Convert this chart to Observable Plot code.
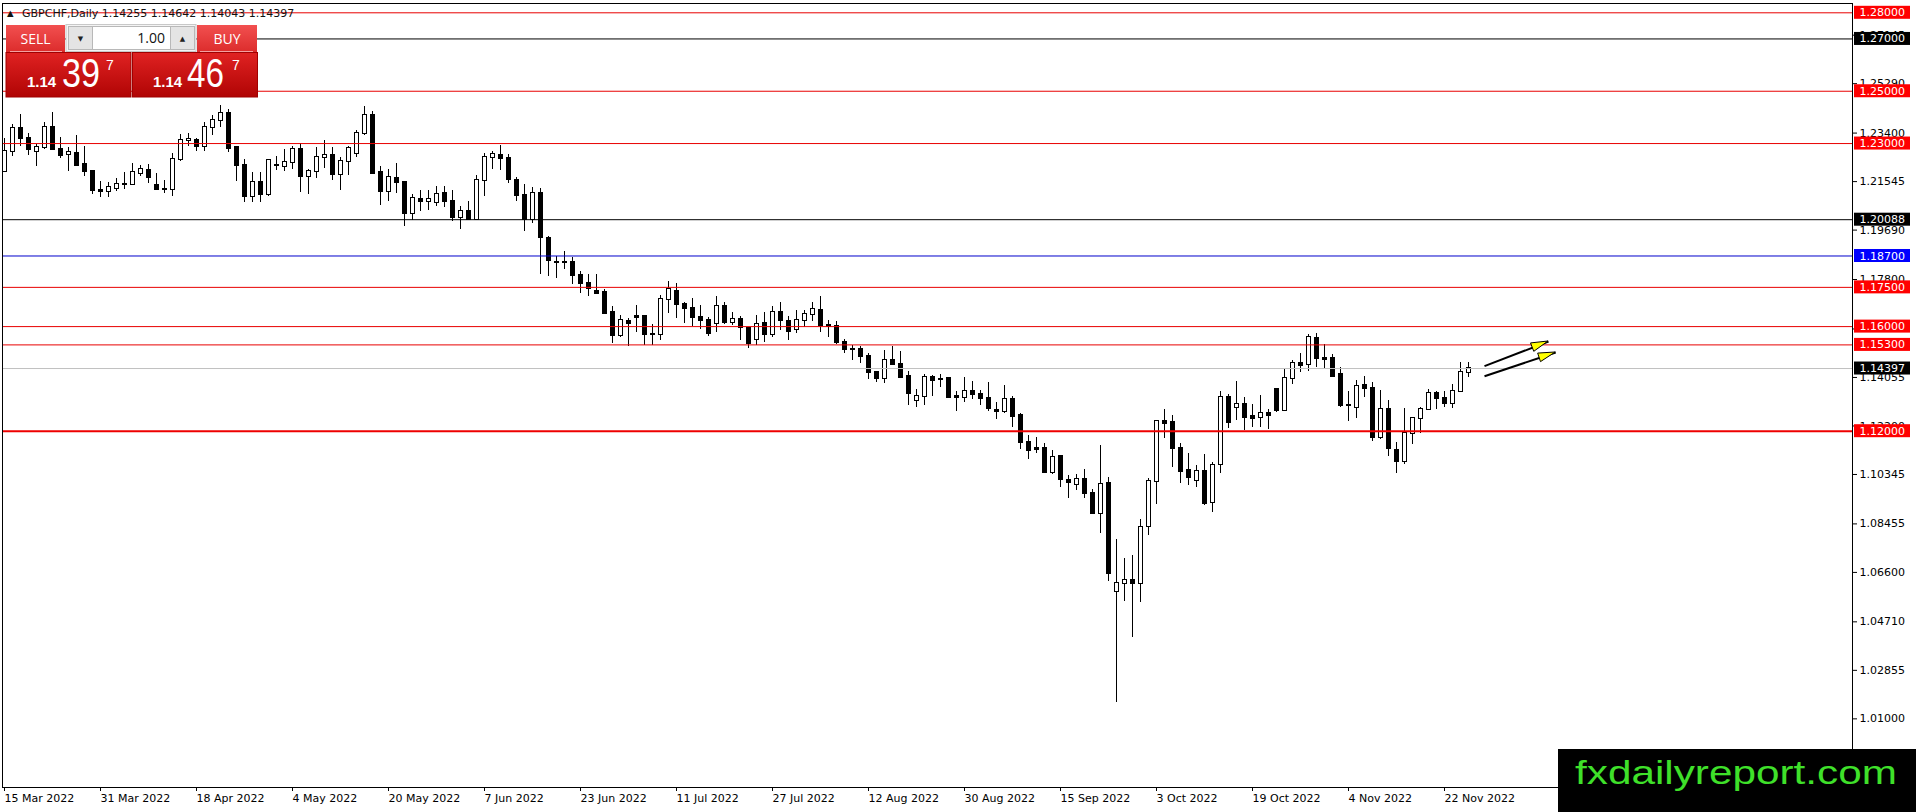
<!DOCTYPE html>
<html>
<head>
<meta charset="utf-8">
<script src="https://cdn.jsdelivr.net/npm/d3@7"></script>
<script src="https://cdn.jsdelivr.net/npm/@observablehq/plot@0.6"></script>
<style>
  html, body { margin: 0; padding: 0; background: #fff; }
  #wrap { position: relative; width: 1916px; height: 812px; overflow: hidden; background: #fff; }
  #chart { position: absolute; left: 0; top: 0; }
  .ov { position: absolute; left: 0; top: 0; overflow: visible; }
</style>
</head>
<body>
<div id="wrap">
  <div id="chart"></div>
</div>
<script>
// ---------------- data ----------------
const symbol = "GBPCHF,Daily";

const open = [
1.2194,1.2268,1.2359,1.2320,1.2268,1.2285,1.2361,1.2277,1.2258,1.2262,
1.2220,1.2193,1.2120,1.2115,1.2130,1.2142,1.2143,1.2184,1.2197,1.2141,
1.2125,1.2124,1.2239,1.2312,1.2313,1.2287,1.2361,1.2388,1.2415,1.2285,
1.2217,1.2099,1.2151,1.2107,1.2217,1.2213,1.2227,1.2278,1.2174,1.2193,
1.2246,1.2255,1.2180,1.2231,1.2262,1.2338,1.2407,1.2189,1.2115,1.2166,
1.2151,1.2032,1.2086,1.2078,1.2074,1.2109,1.2079,1.2016,1.2041,1.2009,
1.2157,1.2246,1.2255,1.2243,1.2160,1.2102,1.2009,1.2109,1.1937,1.1847,
1.1846,1.1845,1.1796,1.1764,1.1734,1.1729,1.1654,1.1567,1.1620,1.1637,
1.1640,1.1570,1.1569,1.1703,1.1735,1.1685,1.1669,1.1634,1.1622,1.1611,
1.1678,1.1614,1.1627,1.1592,1.1550,1.1611,1.1569,1.1654,1.1620,1.1589,
1.1622,1.1646,1.1662,1.1603,1.1599,1.1539,1.1512,1.1512,1.1487,1.1424,
1.1401,1.1471,1.1455,1.1410,1.1318,1.1331,1.1407,1.1399,1.1401,1.1331,
1.1328,1.1351,1.1340,1.1325,1.1279,1.1276,1.1323,1.1260,1.1157,1.1134,
1.1132,1.1043,1.1103,1.1011,1.0996,1.1014,1.0960,1.0886,1.0999,1.0588,
1.0616,1.0628,1.0616,1.0837,1.1006,1.1238,1.1232,1.1132,1.1050,1.1011,
1.1046,1.0926,1.1071,1.1328,1.1292,1.1301,1.1255,1.1254,1.1266,1.1359,
1.1279,1.1400,1.1458,1.1454,1.1553,1.1477,1.1477,1.1415,1.1299,1.1292,
1.1373,1.1362,1.1174,1.1282,1.1126,1.1085,1.1190,1.1247,1.1282,1.1345,
1.1324,1.1305,1.1352,1.14255];

const high = [
1.2319,1.2373,1.2412,1.2338,1.2296,1.2380,1.2419,1.2324,1.2286,1.2332,
1.2290,1.2198,1.2156,1.2150,1.2166,1.2189,1.2224,1.2217,1.2220,1.2185,
1.2157,1.2262,1.2336,1.2338,1.2319,1.2380,1.2408,1.2447,1.2430,1.2290,
1.2239,1.2189,1.2189,1.2239,1.2252,1.2278,1.2287,1.2300,1.2202,1.2285,
1.2311,1.2283,1.2248,1.2287,1.2351,1.2440,1.2421,1.2213,1.2202,1.2224,
1.2153,1.2105,1.2122,1.2120,1.2137,1.2134,1.2122,1.2060,1.2079,1.2179,
1.2262,1.2271,1.2294,1.2259,1.2170,1.2144,1.2132,1.2128,1.1946,1.1869,
1.1889,1.1863,1.1812,1.1799,1.1799,1.1743,1.1675,1.1643,1.1631,1.1682,
1.1643,1.1607,1.1720,1.1773,1.1764,1.1694,1.1707,1.1682,1.1634,1.1716,
1.1692,1.1654,1.1640,1.1596,1.1643,1.1654,1.1675,1.1692,1.1637,1.1660,
1.1662,1.1692,1.1716,1.1624,1.1618,1.1552,1.1529,1.1522,1.1497,1.1430,
1.1509,1.1525,1.1503,1.1427,1.1359,1.1418,1.1414,1.1418,1.1405,1.1353,
1.1405,1.1391,1.1356,1.1385,1.1308,1.1376,1.1331,1.1266,1.1184,1.1175,
1.1154,1.1126,1.1107,1.1030,1.1034,1.1052,1.0976,1.1145,1.1022,1.0784,
1.0712,1.0724,1.0862,1.1018,1.1241,1.1282,1.1260,1.1152,1.1113,1.1069,
1.1109,1.1079,1.1352,1.1340,1.1390,1.1328,1.1302,1.1336,1.1282,1.1362,
1.1435,1.1470,1.1496,1.1570,1.1572,1.1532,1.1493,1.1445,1.1352,1.1394,
1.1409,1.1385,1.1356,1.1317,1.1158,1.1288,1.1254,1.1289,1.1358,1.1353,
1.1352,1.1377,1.1461,1.14642];

const low = [
1.2192,1.2252,1.2287,1.2255,1.2211,1.2278,1.2272,1.2243,1.2192,1.2213,
1.2173,1.2105,1.2092,1.2093,1.2115,1.2125,1.2141,1.2175,1.2148,1.2119,
1.2109,1.2096,1.2230,1.2290,1.2271,1.2271,1.2332,1.2361,1.2266,1.2156,
1.2074,1.2074,1.2074,1.2096,1.2198,1.2194,1.2202,1.2111,1.2105,1.2166,
1.2204,1.2157,1.2119,1.2179,1.2245,1.2329,1.2183,1.2065,1.2077,1.2109,
1.1981,1.2007,1.2041,1.2045,1.2058,1.2055,1.2000,1.1971,1.2007,1.2004,
1.2096,1.2202,1.2198,1.2147,1.2078,1.1962,1.1994,1.1800,1.1790,1.1784,
1.1818,1.1762,1.1726,1.1714,1.1722,1.1646,1.1535,1.1558,1.1522,1.1576,
1.1529,1.1529,1.1548,1.1652,1.1631,1.1611,1.1599,1.1590,1.1564,1.1576,
1.1609,1.1603,1.1545,1.1518,1.1529,1.1538,1.1560,1.1586,1.1548,1.1573,
1.1596,1.1618,1.1576,1.1560,1.1532,1.1499,1.1469,1.1458,1.1397,1.1388,
1.1382,1.1452,1.1405,1.1297,1.1290,1.1297,1.1334,1.1369,1.1325,1.1277,
1.1308,1.1321,1.1299,1.1277,1.1244,1.1267,1.1214,1.1130,1.1090,1.1116,
1.1039,1.1034,1.0983,1.0941,1.0973,1.0941,1.0880,1.0807,1.0626,1.0163,
1.0550,1.0412,1.0546,1.0801,1.0920,1.1171,1.1062,1.0999,1.0992,1.0986,
1.0916,1.0888,1.1037,1.1209,1.1241,1.1203,1.1215,1.1215,1.1205,1.1273,
1.1277,1.1377,1.1426,1.1430,1.1445,1.1438,1.1409,1.1292,1.1238,1.1250,
1.1330,1.1162,1.1167,1.1104,1.1039,1.1071,1.1149,1.1192,1.1279,1.1282,
1.1292,1.1288,1.1347,1.14043];

const close = [
1.2271,1.2357,1.2318,1.2277,1.2285,1.2361,1.2276,1.2255,1.2266,1.2217,
1.2192,1.2119,1.2115,1.2132,1.2144,1.2144,1.2189,1.2202,1.2169,1.2123,
1.2124,1.2240,1.2313,1.2314,1.2287,1.2361,1.2388,1.2415,1.2281,1.2216,
1.2096,1.2150,1.2107,1.2236,1.2216,1.2227,1.2278,1.2173,1.2193,1.2248,
1.2255,1.2180,1.2232,1.2282,1.2338,1.2407,1.2186,1.2115,1.2170,1.2151,
1.2032,1.2090,1.2078,1.2086,1.2105,1.2077,1.2016,1.2041,1.2009,1.2160,
1.2246,1.2258,1.2243,1.2164,1.2100,1.2009,1.2109,1.1940,1.1854,1.1846,
1.1845,1.1796,1.1764,1.1745,1.1726,1.1652,1.1567,1.1622,1.1612,1.1634,
1.1569,1.1569,1.1703,1.1742,1.1684,1.1668,1.1634,1.1622,1.1573,1.1678,
1.1614,1.1627,1.1596,1.1535,1.1608,1.1569,1.1654,1.1622,1.1580,1.1622,
1.1647,1.1665,1.1603,1.1601,1.1538,1.1512,1.1511,1.1484,1.1424,1.1401,
1.1471,1.1455,1.1407,1.1344,1.1331,1.1405,1.1395,1.1396,1.1328,1.1330,
1.1350,1.1340,1.1325,1.1286,1.1277,1.1323,1.1258,1.1155,1.1128,1.1131,
1.1043,1.1101,1.1014,1.1004,1.1014,1.0963,1.0886,1.0995,1.0654,1.0616,
1.0628,1.0616,1.0833,1.1006,1.1238,1.1231,1.1135,1.1047,1.1022,1.1044,
1.0925,1.1069,1.1328,1.1232,1.1301,1.1251,1.1250,1.1266,1.1261,1.1279,
1.1400,1.1458,1.1452,1.1557,1.1477,1.1475,1.1410,1.1298,1.1298,1.1372,
1.1362,1.1174,1.1282,1.1132,1.1085,1.1190,1.1247,1.1282,1.1343,1.1324,
1.1305,1.1352,1.1423,1.14397];

// date axis: bar index of each label and the label text
const tickBars = [0,12,24,36,48,60,72,84,96,108,120,132,144,156,168,180];
const tickLabels = ["15 Mar 2022","31 Mar 2022","18 Apr 2022","4 May 2022","20 May 2022",
  "7 Jun 2022","23 Jun 2022","11 Jul 2022","27 Jul 2022","12 Aug 2022","30 Aug 2022",
  "15 Sep 2022","3 Oct 2022","19 Oct 2022","4 Nov 2022","22 Nov 2022"];

// price scale labels
const yTicks = [1.27145,1.25290,1.23400,1.21545,1.19690,1.17800,1.15910,1.14055,
  1.12200,1.10345,1.08455,1.06600,1.04710,1.02855,1.01000];

// horizontal levels
const levelPrices = [1.28000,1.27000,1.25000,1.23000,1.20088,1.18700,1.17500,1.16000,1.15300,1.14397,1.12000];
const levelLine   = ["#e80000","#000000","#e80000","#e80000","#000000","#0000cc","#e80000","#e80000","#e80000","#c0c0c0","#ee0000"];
const levelBox    = ["#ff0000","#000000","#ff0000","#ff0000","#000000","#0000ff","#ff0000","#ff0000","#ff0000","#000000","#ff0000"];
const levelWidth  = [1,1,1,1,1,1,1,1,1,1,2];

// two drawn arrows (bar index, price)
const arrowStartBar = [185, 185];
const arrowStartPx  = [1.14486, 1.14103];
const arrowEndBar   = [193, 193.9];
const arrowEndPx    = [1.15430, 1.15010];

// one-click panel quotes
const bidParts = ["1.14", "39", "7"];
const askParts = ["1.14", "46", "7"];
const lotSize = "1.00";

// ---------------- tables ----------------
const candles = open.map((o, i) => ({i, open: o, high: high[i], low: low[i], close: close[i]}));
const levels = levelPrices.map((p, k) => ({price: p, line: levelLine[k], box: levelBox[k], w: levelWidth[k]}));
const arrows = arrowStartBar.map((b, k) => ({x1: b, y1: arrowStartPx[k], x2: arrowEndBar[k], y2: arrowEndPx[k]}));
const axisEnd = 231;

const plot = Plot.plot({
  width: 1916,
  height: 812,
  marginLeft: 2,
  marginRight: 64,
  marginTop: 3,
  marginBottom: 25,
  style: {fontFamily: "'DejaVu Sans', sans-serif", fontSize: "11px", color: "black", background: "white", overflow: "visible"},
  x: {type: "linear", domain: [-0.25, axisEnd]},
  y: {type: "linear", domain: [0.983748, 1.283556]},
  marks: [
    Plot.axisY({anchor: "right", ticks: yTicks, tickFormat: d => d.toFixed(5), tickSize: 4, tickPadding: 3, fontSize: 11, fill: "black"}),
    Plot.axisX({anchor: "bottom", ticks: tickBars, tickFormat: d => tickLabels[tickBars.indexOf(d)], tickSize: 4, tickPadding: 3, textAnchor: "start", dx: 0, fontSize: 11, fill: "black"}),
    Plot.ruleX(candles, {x: "i", y1: "low", y2: "high", stroke: "black", shapeRendering: "crispEdges"}),
    Plot.rect(candles, {x1: "i", x2: "i", y1: "open", y2: "close",
      insetLeft: -2, insetRight: -2, insetTop: -0.5, insetBottom: -0.5,
      fill: d => d.close >= d.open ? "white" : "black", stroke: "black", shapeRendering: "crispEdges"}),
    Plot.ruleY(levels, {y: "price", stroke: "line", strokeWidth: "w"}),
    Plot.rect(levels, {x1: () => axisEnd, x2: () => axisEnd, y1: "price", y2: "price",
      insetLeft: 2, insetRight: -58, insetTop: -6.5, insetBottom: -6.5, fill: "box"}),
    Plot.text(levels, {x: () => axisEnd, y: "price", text: d => d.price.toFixed(5), dx: 7,
      textAnchor: "start", fill: "white", fontSize: 11}),
    Plot.link(arrows, {x1: "x1", y1: "y1", x2: "x2", y2: "y2", stroke: "black", strokeWidth: 2}),
    Plot.frame({stroke: "black"})
  ]
});
document.getElementById("chart").appendChild(plot);

// arrow heads, placed through the plot's scales
const sx = plot.scale("x"), sy = plot.scale("y");
const svgSel = d3.select(plot);
arrows.forEach(a => {
  const x1 = sx.apply(a.x1), y1 = sy.apply(a.y1), x2 = sx.apply(a.x2), y2 = sy.apply(a.y2);
  const dx = x2 - x1, dy = y2 - y1, len = Math.hypot(dx, dy), ux = dx / len, uy = dy / len;
  const L = 17, W = 4.5;
  const bx = x2 - ux * L, by = y2 - uy * L;
  const pts = [[x2, y2], [bx - uy * W, by + ux * W], [bx + uy * W, by - ux * W]];
  svgSel.append("polygon").attr("points", pts.map(p => p.join(",")).join(" "))
    .attr("fill", "#ffff00").attr("stroke", "black").attr("stroke-width", 1).attr("stroke-linejoin", "miter");
});

// ---------------- overlays: header, one-click panel, logo ----------------
const wrap = d3.select("#wrap");
const last = candles[candles.length - 1];
const hdr = wrap.append("svg").attr("class", "ov").attr("width", 420).attr("height", 22);
hdr.append("text").attr("x", 7).attr("y", 15.5).attr("font-family", "DejaVu Sans").attr("font-size", 8.5).attr("fill", "#111").text("▲");
hdr.append("text").attr("x", 22).attr("y", 16.5).attr("font-family", "DejaVu Sans").attr("font-size", 11).attr("fill", "#111")
  .text(symbol + "  " + [last.open, last.high, last.low, last.close].map(v => v.toFixed(5)).join(" "));

const pn = wrap.append("svg").attr("class", "ov").attr("width", 262).attr("height", 100);
const defs = pn.append("defs");
const g1 = defs.append("linearGradient").attr("id", "gBtn").attr("x1", 0).attr("x2", 0).attr("y1", 0).attr("y2", 1);
g1.append("stop").attr("offset", "0%").attr("stop-color", "#f25050");
g1.append("stop").attr("offset", "100%").attr("stop-color", "#dc2c2c");
const g2 = defs.append("linearGradient").attr("id", "gPx").attr("x1", 0).attr("x2", 0).attr("y1", 0).attr("y2", 1);
g2.append("stop").attr("offset", "0%").attr("stop-color", "#e02222");
g2.append("stop").attr("offset", "100%").attr("stop-color", "#b00404");

pn.append("rect").attr("x", 66).attr("y", 24.5).attr("width", 130).attr("height", 27).attr("fill", "#f4f4f4").attr("stroke", "#c8c8c8");
pn.append("rect").attr("x", 6).attr("y", 25).attr("width", 59).attr("height", 27).attr("fill", "url(#gBtn)");
pn.append("rect").attr("x", 197).attr("y", 25).attr("width", 60).attr("height", 27).attr("fill", "url(#gBtn)");
pn.append("rect").attr("x", 68.5).attr("y", 26.5).attr("width", 24).attr("height", 23).attr("fill", "#e4e4e4").attr("stroke", "#b8b8b8");
pn.append("rect").attr("x", 92.5).attr("y", 26.5).attr("width", 78).attr("height", 23).attr("fill", "#ffffff").attr("stroke", "#b8b8b8");
pn.append("rect").attr("x", 170.5).attr("y", 26.5).attr("width", 24).attr("height", 23).attr("fill", "#e4e4e4").attr("stroke", "#b8b8b8");
pn.append("text").attr("x", 80.5).attr("y", 41).attr("text-anchor", "middle").attr("font-family", "DejaVu Sans").attr("font-size", 7).attr("fill", "#222").text("▼");
pn.append("text").attr("x", 182.5).attr("y", 41).attr("text-anchor", "middle").attr("font-family", "DejaVu Sans").attr("font-size", 7).attr("fill", "#222").text("▲");
pn.append("text").attr("x", 165).attr("y", 43).attr("text-anchor", "end").attr("font-family", "Open Sans").attr("font-size", 14).attr("fill", "#111").text(lotSize);
pn.append("text").attr("x", 35.5).attr("y", 43.5).attr("text-anchor", "middle").attr("font-family", "Open Sans").attr("font-size", 14).attr("fill", "white").text("SELL");
pn.append("text").attr("x", 227).attr("y", 43.5).attr("text-anchor", "middle").attr("font-family", "Open Sans").attr("font-size", 14).attr("fill", "white").text("BUY");
pn.append("line").attr("x1", 10).attr("x2", 62).attr("y1", 51.5).attr("y2", 51.5).attr("stroke", "#f3a0a0");
pn.append("line").attr("x1", 200).attr("x2", 253).attr("y1", 51.5).attr("y2", 51.5).attr("stroke", "#f3a0a0");

function pricePanel(x0, parts, xs, wBig) {
  pn.append("rect").attr("x", x0).attr("y", 52.5).attr("width", 125).attr("height", 44.5).attr("fill", "url(#gPx)").attr("stroke", "#a00000");
  pn.append("text").attr("x", xs[0]).attr("y", 87).attr("font-family", "Liberation Sans").attr("font-weight", "bold").attr("font-size", 15).attr("fill", "white").text(parts[0]);
  pn.append("text").attr("x", xs[1]).attr("y", 87).attr("font-family", "Liberation Sans").attr("font-size", 40).attr("fill", "white")
    .attr("textLength", wBig).attr("lengthAdjust", "spacingAndGlyphs").text(parts[1]);
  pn.append("text").attr("x", xs[2]).attr("y", 70).attr("font-family", "Liberation Sans").attr("font-size", 14).attr("fill", "white").text(parts[2]);
}
pricePanel(6, bidParts, [27, 62, 106], 38);
pricePanel(132.5, askParts, [153, 187, 232], 37);

const logo = wrap.append("svg").attr("class", "ov").style("left", "1558px").style("top", "749px").attr("width", 358).attr("height", 63);
logo.append("rect").attr("width", 358).attr("height", 63).attr("fill", "black");
logo.append("text").attr("x", 17).attr("y", 34.5).attr("font-family", "Liberation Sans").attr("font-size", 33)
  .attr("fill", "#3fe02a").attr("textLength", 322).attr("lengthAdjust", "spacingAndGlyphs").text("fxdailyreport.com");
</script>
</body>
</html>
